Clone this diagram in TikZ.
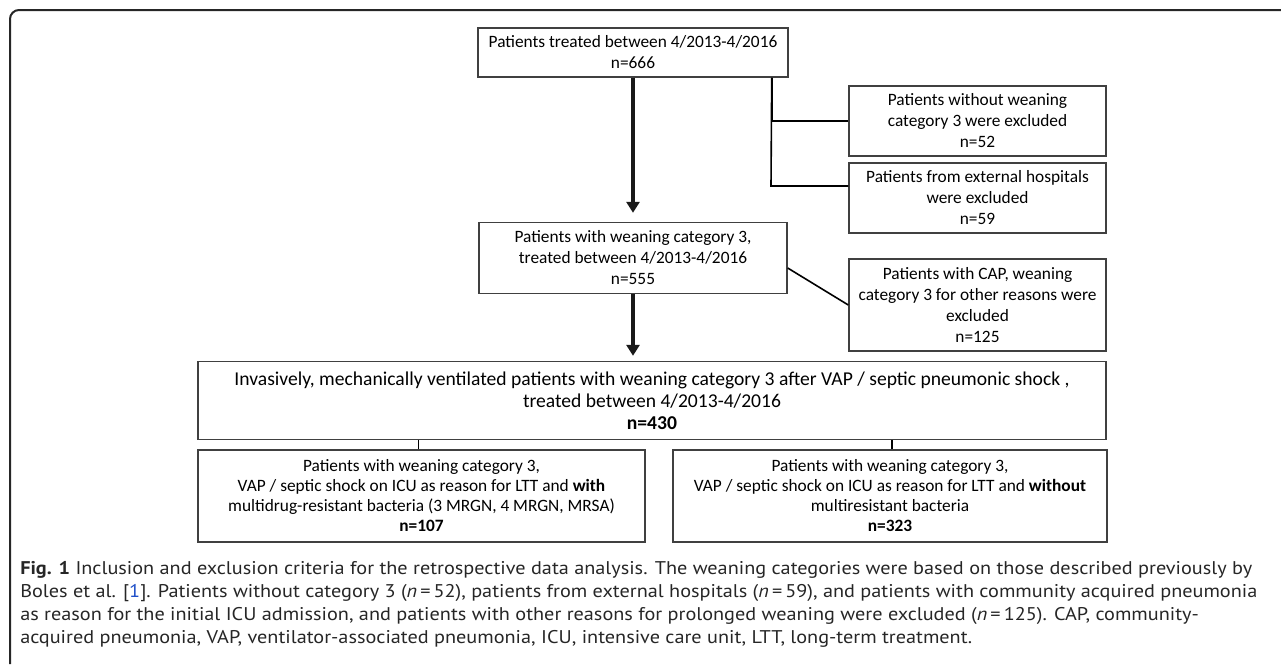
\documentclass[tikz,border=0pt]{standalone}
\usepackage{fontspec}
\setmainfont{Carlito}
\newfontfamily\capfont[FakeStretch=1.1]{PT Sans}
\usetikzlibrary{arrows.meta}
\definecolor{boxgray}{HTML}{404040}
\definecolor{linkblue}{HTML}{1F4FC8}
\def\pxu{0.75pt}
\tikzset{
  box/.style={draw=boxgray, line width=1.4*\pxu, align=center, inner sep=0pt, font=\fontsize{13}{15.75}\selectfont},
  lowbox/.style={box, font=\fontsize{13}{15}\selectfont},
  mainbox/.style={box, font=\fontsize{14.7}{16.5}\selectfont},
  thin/.style={draw=black, line width=1.6*\pxu},
  bigarrow/.style={draw=black!90, line width=4*\pxu, -{Triangle[width=13*\pxu, length=11*\pxu]}},
  captxt/.style={anchor=base west, inner sep=0pt, font=\capfont\fontsize{13.8}{16}\selectfont, text=black!85}
}
\begin{document}
\begin{tikzpicture}[x=0.75pt,y=-0.75pt]
\useasboundingbox (0,0) rectangle (1281,664);
% outer frame
\draw[black!85, line width=2*\pxu, rounded corners=9*\pxu] (10,664) -- (10,10) -- (1281,10);

% boxes
\node[box, minimum width={310*\pxu}, minimum height={49*\pxu}] (b1) at (633,52.5)
  {Patients treated between 4/2013-4/2016\\n=666};
\node[box, minimum width={308*\pxu}, minimum height={71*\pxu}] (b2) at (633,258)
  {Patients with weaning category 3,\\treated between 4/2013-4/2016\\n=555};
\node[box, minimum width={257*\pxu}, minimum height={70*\pxu}] (exA) at (977.5,121)
  {Patients without weaning\\category 3 were excluded\\n=52};
\node[box, minimum width={257*\pxu}, minimum height={70*\pxu}] (exB) at (977.5,198)
  {Patients from external hospitals\\were excluded\\n=59};
\node[box, minimum width={257*\pxu}, minimum height={92*\pxu}] (exC) at (977.5,305)
  {Patients with CAP, weaning\\category 3 for other reasons were\\excluded\\n=125};
\node[mainbox, minimum width={908*\pxu}, minimum height={78*\pxu}] (big) at (652,400.5)
  {Invasively, mechanically ventilated patients with weaning category 3 after VAP / septic pneumonic shock ,\\treated between 4/2013-4/2016\\\textbf{n=430}};
\node[lowbox, minimum width={447*\pxu}, minimum height={92*\pxu}] (bl) at (421.5,496)
  {Patients with weaning category 3,\\VAP / septic shock on ICU as reason for LTT and \textbf{with}\\multidrug-resistant bacteria (3 MRGN, 4 MRGN, MRSA)\\\textbf{n=107}};
\node[lowbox, minimum width={434*\pxu}, minimum height={92*\pxu}] (br) at (890,496)
  {Patients with weaning category 3,\\VAP / septic shock on ICU as reason for LTT and \textbf{without}\\multiresistant bacteria\\\textbf{n=323}};

% connectors
\draw[bigarrow, shorten >=9*\pxu] (b1.south) -- (b2.north);
\draw[bigarrow, shorten >=5*\pxu] (b2.south) -- (b2.south |- big.north);
\coordinate (vtop) at ([xshift=-17*\pxu]b1.south east);
\coordinate (jB) at (771,186);
\draw[thin] (vtop) |- (exA.west);
\draw[thin] (vtop) -- (jB) -- (exB.west |- jB);
\draw[thin] ([yshift=-10*\pxu]b2.east) -- (exC.west);
\coordinate (blTop) at ([xshift=-3*\pxu]bl.north);
\coordinate (brTop) at ([xshift=2*\pxu]br.north);
\draw[thin] (blTop) -- (blTop |- big.south);
\draw[thin] (brTop) -- (brTop |- big.south);

% caption
\node[captxt] (c1) at (20,574) {\textbf{Fig. 1} Inclusion and exclusion criteria for the retrospective data analysis. The weaning categories were based on those described previously by};
\node[captxt] (c2) at (20,597) {Boles et al. [{\color{linkblue}1}]. Patients without category 3 (\textit{n}\,=\,52), patients from external hospitals (\textit{n}\,=\,59), and patients with community acquired pneumonia};
\node[captxt] (c3) at (20,620) {as reason for the initial ICU admission, and patients with other reasons for prolonged weaning were excluded (\textit{n}\,=\,125). CAP, community-};
\node[captxt] (c4) at (20,643) {acquired pneumonia, VAP, ventilator-associated pneumonia, ICU, intensive care unit, LTT, long-term treatment.};
\end{tikzpicture}
\end{document}
